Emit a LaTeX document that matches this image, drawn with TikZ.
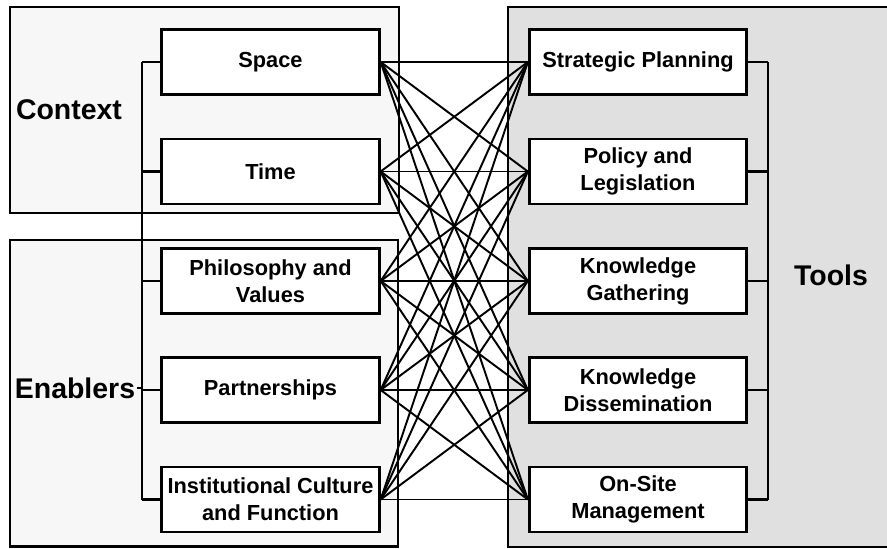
\documentclass[tikz,border=0pt]{standalone}
\usepackage{fontspec}
\setmainfont{Liberation Sans}
\usepackage{tikz}

\begin{document}
\begin{tikzpicture}[
	item/.style={draw,line width=1.6pt,fill=white,minimum width=4.35cm,minimum height=1.3cm,
		align=center,font=\fontsize{12.4}{15.3}\selectfont\bfseries,inner sep=1pt},
	group/.style={font=\fontsize{16.2}{19}\selectfont\bfseries,inner sep=1pt},
	frame/.style={line width=1.3pt},
	link/.style={line width=1.1pt}]
	\useasboundingbox (0,0) rectangle (17.74,-10.96);

	%frames
	\draw[frame,fill=black!3] (0.2,-0.14) rectangle (7.98,-4.26);
	\draw[frame,fill=black!3] (0.2,-4.8) rectangle (7.96,-10.93);
	\draw[frame,fill=black!12] (10.16,-0.14) rectangle (18.2,-10.94);

	%left column
	\node[item] (l1) at (5.41,-1.24) {Space};
	\node[item] (l2) at (5.41,-3.43) {Time};
	\node[item] (l3) at (5.41,-5.62) {Philosophy and\\Values};
	\node[item] (l4) at (5.41,-7.8) {Partnerships};
	\node[item] (l5) at (5.41,-9.99) {Institutional Culture\\and Function};

	%right column
	\node[item] (r1) at (12.76,-1.24) {Strategic Planning};
	\node[item] (r2) at (12.76,-3.43) {Policy and\\Legislation};
	\node[item] (r3) at (12.76,-5.62) {Knowledge\\Gathering};
	\node[item] (r4) at (12.76,-7.8) {Knowledge\\Dissemination};
	\node[item] (r5) at (12.76,-9.99) {On-Site\\Management};

	%labels
	\node[group] (context) at (1.38,-2.2) {Context};
	\node[group] (enablers) at (1.5,-7.76) {Enablers};
	\node[group] (tools) at (16.62,-5.5) {Tools};

	%every enabler to every tool
	\foreach \i in {1,...,5}
	\foreach \j in {1,...,5}
	\draw[link] (l\i.east) -- (r\j.west);

	%brackets
	\coordinate (lbr) at (2.84,0);
	\coordinate (rbr) at (15.36,0);
	\draw[frame] (l1.west -| lbr) -- (l5.west -| lbr);
	\draw[frame] (r1.east -| rbr) -- (r5.east -| rbr);
	\foreach \i in {1,...,5}
	{
	\draw[frame] (l\i.west) -- (l\i.west -| lbr);
	\draw[frame] (r\i.east) -- (r\i.east -| rbr);
	}
	\draw[frame] (enablers.east) -- (enablers.east -| lbr);
\end{tikzpicture}
\end{document}
